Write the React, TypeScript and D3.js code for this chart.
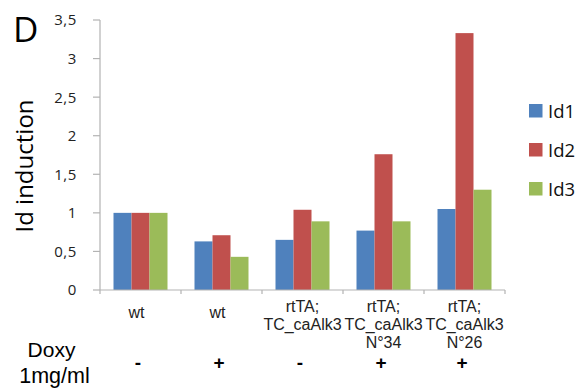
import React from "react";
import * as d3 from "d3";

const categories: string[][] = [
  ["wt"],
  ["wt"],
  ["rtTA;", "TC_caAlk3"],
  ["rtTA;", "TC_caAlk3", "N°34"],
  ["rtTA;", "TC_caAlk3", "N°26"],
];
const doxySigns = ["-", "+", "-", "+", "+"];
const seriesNames = ["Id1", "Id2", "Id3"];
const id1 = [1.0, 0.63, 0.65, 0.77, 1.05];
const id2 = [1.0, 0.71, 1.04, 1.76, 3.33];
const id3 = [1.0, 0.43, 0.89, 0.89, 1.3];
const yTicks = [0, 0.5, 1, 1.5, 2, 2.5, 3, 3.5];

const colors = ["#4F81BD", "#C0504D", "#9BBB59"];
const W = 585;
const H = 392;
const plot = { left: 100, right: 505, top: 20, bottom: 290 };
const axisColor = "#b3b3b3";
const sans = "'Open Sans', 'DejaVu Sans', sans-serif";
const arial = "'Liberation Sans', Arial, sans-serif";

export default function App() {
  const idx = categories.map((_, i) => i);
  const x = d3.scaleBand<number>().domain(idx).range([plot.left, plot.right]).paddingInner(0).paddingOuter(0);
  const y = d3.scaleLinear().domain([0, 3.5]).range([plot.bottom, plot.top]);
  const bw = x.bandwidth();
  const xs = d3
    .scaleBand<number>()
    .domain([0, 1, 2])
    .range([bw / 6, bw - bw / 6])
    .padding(0);
  const series = [id1, id2, id3];
  const fmt = (v: number) => String(v).replace(".", ",");

  return (
    <svg width={W} height={H} style={{ position: "absolute", left: 0, top: 0, background: "#fff" }}>
      <rect width={W} height={H} fill="#fff" />
      {/* panel letter */}
      <text x={13} y={42} fontFamily={sans} fontSize={35} fill="#000">D</text>

      {/* y axis */}
      <line x1={plot.left} x2={plot.left} y1={plot.top} y2={plot.bottom} stroke={axisColor} strokeWidth={1.2} />
      {yTicks.map((t) => (
        <g key={t}>
          <line x1={plot.left - 7} x2={plot.left} y1={y(t)} y2={y(t)} stroke={axisColor} strokeWidth={1.2} />
          <text
            x={77}
            y={y(t)}
            dy="0.36em"
            textAnchor="end"
            fontFamily={sans}
            fontSize={15}
            letterSpacing={0.6}
            fill="#222"
          >
            {fmt(t)}
          </text>
        </g>
      ))}
      <text
        transform={`translate(33,166) rotate(-90)`}
        textAnchor="middle"
        fontFamily={sans}
        fontSize={24}
        fill="#000"
      >
        Id induction
      </text>

      {/* bars */}
      {series.map((vals, s) =>
        vals.map((v, i) => (
          <rect
            key={`${s}-${i}`}
            x={(x(i) as number) + (xs(s) as number)}
            y={y(v)}
            width={xs.bandwidth()}
            height={y(0) - y(v)}
            fill={colors[s]}
          />
        ))
      )}

      {/* x axis */}
      <line x1={plot.left} x2={plot.right} y1={plot.bottom} y2={plot.bottom} stroke={axisColor} strokeWidth={1.2} />
      {idx.concat([idx.length]).map((i) => {
        const xx = i < idx.length ? (x(i) as number) : plot.right;
        return <line key={i} x1={xx} x2={xx} y1={plot.bottom} y2={plot.bottom + 4} stroke={axisColor} strokeWidth={1.2} />;
      })}

      {/* category labels */}
      {categories.map((lines, i) => {
        const cx = (x(i) as number) + bw / 2;
        const y0 = lines.length === 1 ? 318 : 312;
        return (
          <text key={i} textAnchor="middle" fontFamily={arial} fontSize={16} fill="#222">
            {lines.map((ln, j) => (
              <tspan key={j} x={lines.length === 1 ? cx - 4 : cx} y={y0 + j * 18}>
                {ln}
              </tspan>
            ))}
          </text>
        );
      })}

      {/* doxycycline row */}
      <text x={51.5} y={357} textAnchor="middle" fontFamily={arial} fontSize={21} fill="#000">Doxy</text>
      <text x={54.5} y={383} textAnchor="middle" fontFamily={arial} fontSize={21.5} fill="#000">1mg/ml</text>
      {doxySigns.map((s, i) => (
        <text
          key={i}
          x={(x(i) as number) + bw / 2 - 2.5}
          y={369}
          textAnchor="middle"
          fontFamily={arial}
          fontWeight="bold"
          fontSize={19}
          fill="#000"
        >
          {s}
        </text>
      ))}

      {/* legend */}
      {seriesNames.map((n, s) => (
        <g key={n} transform={`translate(529,${104 + s * 39})`}>
          <rect x={0} y={0} width={13.5} height={13.5} fill={colors[s]} />
          <text x={19} y={13.5} fontFamily={sans} fontSize={18.5} fill="#111">
            {n}
          </text>
        </g>
      ))}
    </svg>
  );
}
